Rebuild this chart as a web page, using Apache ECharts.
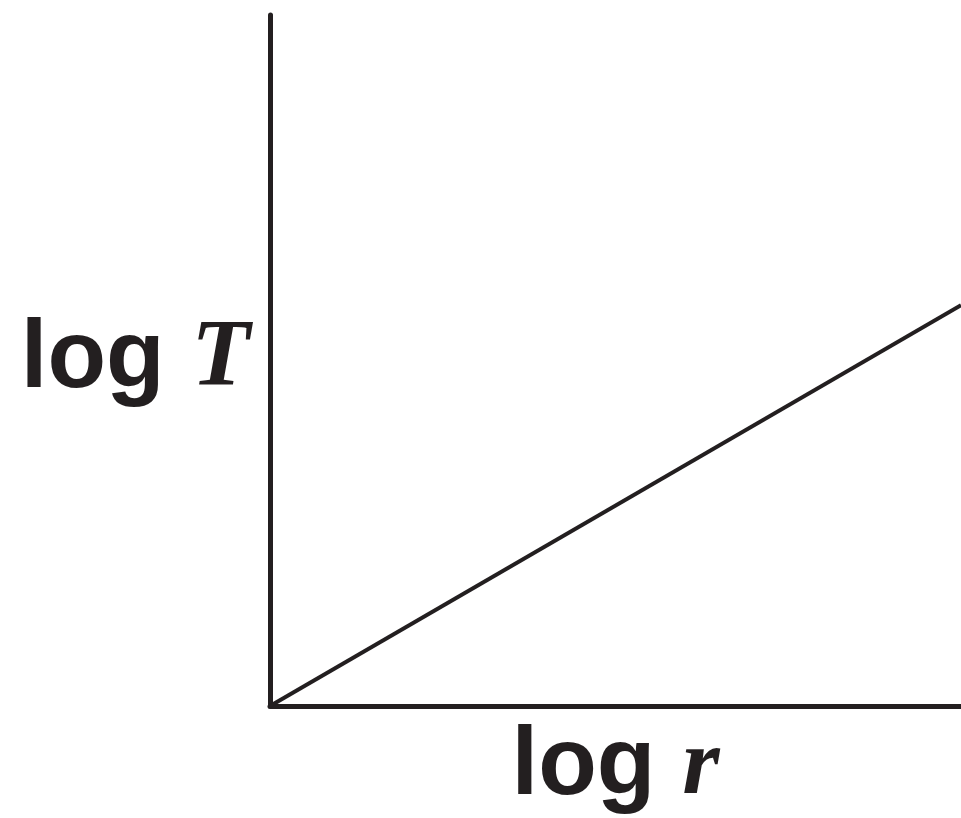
<!DOCTYPE html>
<html>
<head>
<meta charset="utf-8">
<script src="https://cdn.jsdelivr.net/npm/echarts@6/dist/echarts.min.js"></script>
<style>
  html, body { margin: 0; padding: 0; background: #fff; }
  #chart { width: 961px; height: 818px; }
</style>
</head>
<body>
<div id="chart"></div>
<script>
// log r against log T, a straight line from the origin
var logR = [0, 1];
var logT = [0, 0.58];
var xName = ['log', 'r'];
var yName = ['log', 'T'];

var ink = '#231f20';

var chart = echarts.init(document.getElementById('chart'));

var nameRich = {
    a: { fontFamily: 'Liberation Sans', fontWeight: 'bold', fontSize: 96, color: ink },
    b: { fontFamily: 'Liberation Serif', fontStyle: 'italic', fontWeight: 'bold', fontSize: 96, color: ink }
};

var points = [];
for (var i = 0; i < logR.length; i++) {
    points.push([logR[i], logT[i]]);
}

var option = {
    animation: false,
    backgroundColor: '#fff',
    grid: { left: 270, top: 15, width: 691, height: 691, outerBoundsMode: 'none' },
    xAxis: {
        type: 'value',
        min: 0,
        max: 1,
        name: '{a|' + xName[0] + ' }{b|' + xName[1] + '}',
        nameLocation: 'middle',
        nameGap: 14,
        nameTextStyle: { rich: nameRich, verticalAlign: 'top', lineHeight: 96 },
        axisLine: { show: true, lineStyle: { color: ink, width: 5 } },
        axisTick: { show: false },
        axisLabel: { show: false },
        splitLine: { show: false }
    },
    yAxis: {
        type: 'value',
        min: 0,
        max: 1,
        name: '{a|' + yName[0] + ' }{b|' + yName[1] + '}',
        nameLocation: 'middle',
        nameRotate: 0,
        nameGap: 20,
        nameTextStyle: { rich: nameRich, lineHeight: 96 },
        axisLine: { show: true, lineStyle: { color: ink, width: 5 } },
        axisTick: { show: false },
        axisLabel: { show: false },
        splitLine: { show: false }
    },
    series: [{
        type: 'line',
        data: points,
        symbol: 'none',
        lineStyle: { color: ink, width: 4 }
    }]
};

chart.setOption(option);
</script>
</body>
</html>
